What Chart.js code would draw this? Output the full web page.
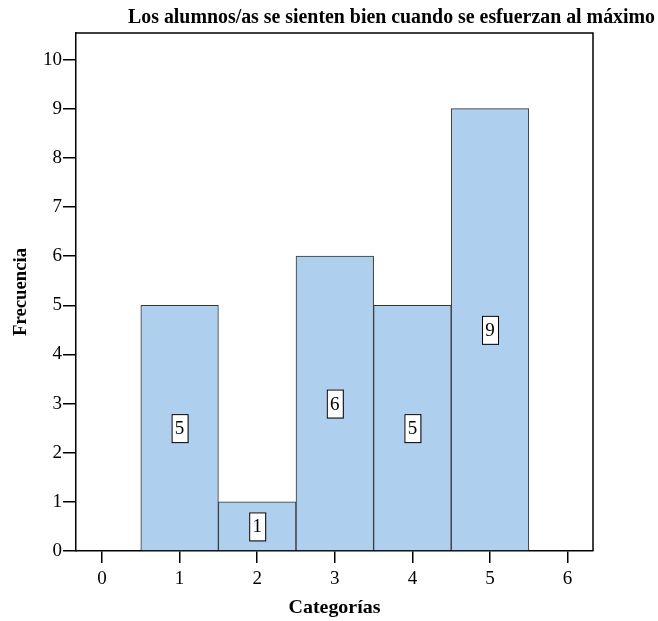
<!DOCTYPE html>
<html lang="es">
<head>
<meta charset="UTF-8">
<title>Los alumnos/as se sienten bien cuando se esfuerzan al máximo</title>
<script src="https://cdn.jsdelivr.net/npm/chart.js@4"></script>
<style>
  body { margin: 0; background: #fff; }
  #wrap { width: 658px; height: 621px; }
</style>
</head>
<body>
<div id="wrap"><canvas id="grafico" width="658" height="621"></canvas></div>
<script>
// datos
const categorias = [1, 2, 3, 4, 5];
const frecuencias = [5, 1, 6, 5, 9];
const xTicks = [0, 1, 2, 3, 4, 5, 6];
const yTicks = [0, 1, 2, 3, 4, 5, 6, 7, 8, 9, 10];

const titulo = 'Los alumnos/as se sienten bien cuando se esfuerzan al máximo';
const serif = '"Liberation Serif", "Times New Roman", serif';

// texto ajustado a un ancho dado (fuente estrecha del original)
function textoAncho(ctx, txt, x, y, ancho) {
  const w = ctx.measureText(txt).width;
  ctx.save();
  ctx.translate(x, y);
  ctx.scale(ancho / w, 1);
  ctx.fillText(txt, 0, 0);
  ctx.restore();
}

// marco, titulos y etiquetas de valor
const extras = {
  id: 'extras',
  afterDraw(chart) {
    const ctx = chart.ctx;
    const a = chart.chartArea;
    const xs = chart.scales.x, ys = chart.scales.y;
    ctx.save();
    ctx.strokeStyle = '#000';
    ctx.lineWidth = 1.5;
    ctx.beginPath();
    ctx.moveTo(a.left, a.top);
    ctx.lineTo(a.right, a.top);
    ctx.lineTo(a.right, a.bottom);
    ctx.stroke();

    // etiquetas en cajas blancas
    ctx.font = '19px ' + serif;
    ctx.textAlign = 'center';
    ctx.textBaseline = 'middle';
    categorias.forEach((c, i) => {
      const px = xs.getPixelForValue(c);
      const py = ys.getPixelForValue(frecuencias[i] / 2);
      const w = 16, h = 28;
      ctx.fillStyle = '#fff';
      ctx.fillRect(px - w / 2, py - h / 2, w, h);
      ctx.lineWidth = 1;
      ctx.strokeStyle = '#000';
      ctx.strokeRect(px - w / 2 + 0.5, py - h / 2 + 0.5, w, h);
      ctx.fillStyle = '#000';
      ctx.fillText(String(frecuencias[i]), px, py + 1);
    });

    // titulo
    ctx.fillStyle = '#000';
    ctx.font = 'bold 20px ' + serif;
    ctx.textAlign = 'left';
    ctx.textBaseline = 'middle';
    textoAncho(ctx, titulo, 128, 18, 527);

    // titulos de ejes
    ctx.font = 'bold 19px ' + serif;
    ctx.textAlign = 'left';
    textoAncho(ctx, 'Categorías', (a.left + a.right) / 2 - 46, 608, 92);
    ctx.translate(21, (a.top + a.bottom) / 2);
    ctx.rotate(-Math.PI / 2);
    textoAncho(ctx, 'Frecuencia', -44, 0, 88);
    ctx.restore();
  }
};

const soloEnteros = (lista) => (scale) => {
  scale.ticks = lista.map(v => ({ value: v }));
};

new Chart(document.getElementById('grafico'), {
  type: 'bar',
  data: {
    datasets: [{
      data: categorias.map((c, i) => ({ x: c, y: frecuencias[i] })),
      backgroundColor: '#aecfee',
      borderColor: '#333',
      borderWidth: 1,
      barPercentage: 1,
      categoryPercentage: 1
    }]
  },
  options: {
    responsive: false,
    animation: false,
    layout: { padding: { top: 33, right: 65, left: 0, bottom: 0 } },
    plugins: { legend: { display: false }, tooltip: { enabled: false } },
    scales: {
      x: {
        type: 'linear',
        offset: false,
        min: -0.335,
        max: 6.327,
        afterBuildTicks: soloEnteros(xTicks),
        afterFit: (s) => { s.height = 70; },
        grid: { offset: false, drawOnChartArea: false, tickLength: 12, color: '#000', lineWidth: 1.5 },
        border: { color: '#000', width: 1.5 },
        ticks: { color: '#000', font: { family: serif, size: 19 }, padding: 5 }
      },
      y: {
        min: 0,
        max: 10.54,
        afterBuildTicks: soloEnteros(yTicks),
        afterFit: (s) => { s.width = 76; },
        grid: { drawOnChartArea: false, tickLength: 13, color: '#000', lineWidth: 1.5 },
        border: { color: '#000', width: 1.5 },
        ticks: { color: '#000', font: { family: serif, size: 19 }, padding: 1 }
      }
    }
  },
  plugins: [extras]
});
</script>
</body>
</html>
